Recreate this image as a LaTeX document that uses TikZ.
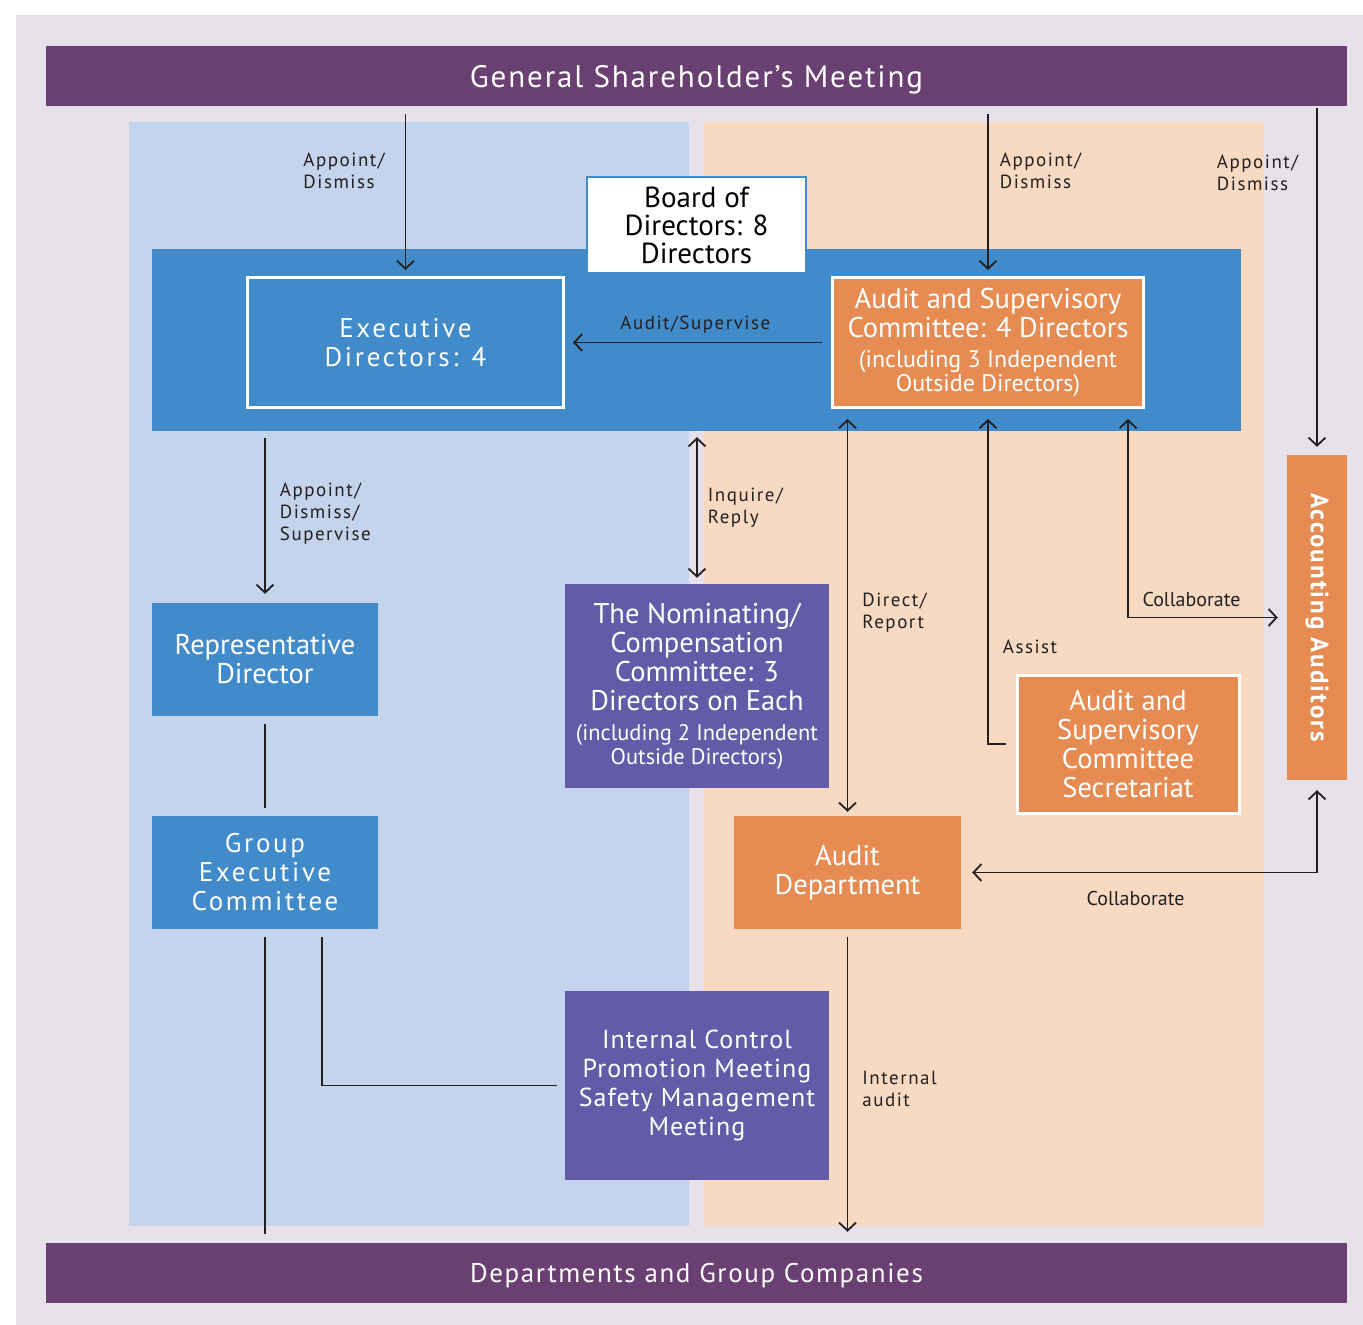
\documentclass[tikz,border=0pt]{standalone}
\usepackage{fontspec}
\setmainfont{PT Sans}
\usetikzlibrary{positioning,arrows.meta}

\definecolor{pagebg}{HTML}{E7E2EA}
\definecolor{meetpurple}{HTML}{6A3F72}
\definecolor{execside}{HTML}{C5D4ED}
\definecolor{auditside}{HTML}{F8DAC2}
\definecolor{boardblue}{HTML}{428BCA}
\definecolor{auditorange}{HTML}{E68C53}
\definecolor{commpurple}{HTML}{625BA8}
\definecolor{inkgray}{HTML}{231F20}

\newcommand{\spaced}[1]{\addfontfeature{LetterSpace=#1}}

\begin{document}
\begin{tikzpicture}[x=1pt, y=-1pt, >={Straight Barb[length=8pt,width=17pt]},
  meetbar/.style={fill=meetpurple, text=white, minimum width=1301pt, minimum height=60pt, inner sep=0pt, text depth=0pt},
  bluebox/.style={fill=boardblue, text=white, align=center, inner sep=0pt},
  orangebox/.style={fill=auditorange, text=white, align=center, inner sep=0pt},
  purplebox/.style={fill=commpurple, text=white, align=center, inner sep=0pt},
  framed/.style={draw=white, line width=3pt},
  rel/.style={inkgray, line width=1.8pt},
  lbl/.style={text=inkgray, align=left, inner sep=0pt, font=\fontsize{19}{22}\selectfont\spaced{8}},
  boxfont/.style={font=\fontsize{28.5}{29}\selectfont}]

  % page and the two halves
  \useasboundingbox (0,0) rectangle (1363,1325);
  \fill[pagebg] (16,15) rectangle (1363,1325);
  \fill[execside] (129,122) rectangle (689,1226);
  \fill[auditside] (704,122) rectangle (1264,1226);

  % meetings at top and bottom
  \node[meetbar, font=\fontsize{31}{33}\selectfont\spaced{6}] (gsm) at (696.5,76) {General Shareholder’s Meeting};
  \node[meetbar, font=\fontsize{27}{30}\selectfont\spaced{6}] (dept) at (696.5,1273) {Departments and Group Companies};

  % board of directors
  \node[fill=boardblue, minimum width=1089pt, minimum height=182pt, inner sep=0pt] (board) at (696.5,340) {};
  \node[fill=white, draw=boardblue, line width=2pt, minimum width=219pt, minimum height=96pt, align=center, inner sep=0pt,
    font=\fontsize{29}{28}\selectfont] (boardlbl) at (696.5,225) {Board of\\Directors: 8\\Directors};
  \node[bluebox, framed, minimum width=316pt, minimum height=130pt, font=\fontsize{27}{29}\selectfont\spaced{10}]
    (exec) at (405.5,342.5) {Executive\\Directors: 4};
  \node[orangebox, framed, minimum width=311pt, minimum height=130pt, font=\fontsize{28.5}{29}\selectfont] (asc) at (988,342.5)
    {Audit and Supervisory\\Committee: 4 Directors\\[1pt]
     {\fontsize{24}{24}\selectfont (including 3 Independent}\\[-5pt]
     {\fontsize{24}{24}\selectfont Outside Directors)}};

  % executive side
  \node[bluebox, boxfont, minimum width=226pt, minimum height=113pt] (rep) at (265,659.5) {Representative\\Director};
  \node[bluebox, minimum width=226pt, minimum height=113pt, font=\fontsize{27}{29}\selectfont\spaced{10}]
    (gec) at (265,872.5) {Group\\Executive\\Committee};
  \node[purplebox, boxfont, minimum width=264pt, minimum height=204pt] (nom) at (697,686)
    {The Nominating/\\Compensation\\Committee: 3\\Directors on Each\\[1pt]
     {\fontsize{22.5}{24}\selectfont (including 2 Independent}\\[-5pt]
     {\fontsize{22.5}{24}\selectfont Outside Directors)}};
  \node[purplebox, minimum width=264pt, minimum height=189pt, font=\fontsize{26}{29}\selectfont\spaced{4}]
    (icm) at (697,1085.5) {Internal Control\\Promotion Meeting\\Safety Management\\Meeting};

  % audit side
  \node[orangebox, boxfont, minimum width=227pt, minimum height=113pt] (adept) at (847.5,872.5) {Audit\\Department};
  \node[orangebox, framed, boxfont, minimum width=222pt, minimum height=138pt] (sec) at (1128,744)
    {Audit and\\Supervisory\\Committee\\Secretariat};
  \node[orangebox, minimum width=60pt, minimum height=325pt] (aud) at (1317,617.5) {};
  \node[text=white, rotate=-90, inner sep=0pt, font=\fontsize{25}{27}\selectfont\bfseries\spaced{8}] (audlbl) at (aud.center) {Accounting Auditors};

  % appointments from the shareholders
  \draw[rel, ->, shorten <=8pt, shorten >=6pt] (gsm.south -| exec.north) -- (exec.north)
    node[lbl, pos=0.38, anchor=east, xshift=-20pt] {Appoint/\\Dismiss};
  \draw[rel, ->, shorten <=8pt, shorten >=6pt] (gsm.south -| asc.north) -- (asc.north)
    node[lbl, pos=0.38, anchor=west, xshift=11pt] {Appoint/\\Dismiss};
  \draw[rel, ->, shorten <=2pt, shorten >=8pt] (gsm.south -| aud.north) -- (aud.north)
    node[lbl, pos=0.19, anchor=east, xshift=-18pt] {Appoint/\\Dismiss};

  % board level
  \draw[rel, ->, shorten <=9pt, shorten >=8pt] (asc.west) -- (exec.east)
    node[lbl, pos=0.51, anchor=south, yshift=8pt] {Audit/Supervise};
  \draw[rel, ->, shorten <=7pt, shorten >=9pt] (board.south -| rep.north) -- (rep.north)
    node[lbl, pos=0.48, anchor=west, xshift=14pt] {Appoint/\\Dismiss/\\Supervise};
  \draw[rel, shorten <=8pt, shorten >=8pt] (rep.south) -- (gec.north);
  \draw[rel, <->, shorten <=6pt, shorten >=6pt] (board.south -| nom.north) -- (nom.north)
    node[lbl, pos=0.5, anchor=west, xshift=10pt] {Inquire/\\Reply};
  \draw[rel, <->, shorten <=10pt, shorten >=4pt] (asc.south -| adept.north) -- (adept.north)
    node[lbl, pos=0.5, anchor=west, xshift=14pt] {Direct/\\Report};
  \draw[rel, ->, shorten <=10pt, shorten >=10pt] (sec.west) -| (asc.south)
    node[lbl, pos=0.645, anchor=west, xshift=14pt] {Assist};
  \draw[rel, <->, shorten <=10pt, shorten >=9pt] ([xshift=140pt]asc.south) |- (aud.west)
    node[lbl, pos=0.7, anchor=south, yshift=10pt, font=\fontsize{20}{22}\selectfont] {Collaborate};
  \draw[rel, <->, shorten <=11pt, shorten >=10pt] (adept.east) -| (aud.south)
    node[lbl, pos=0.245, anchor=north, yshift=-18pt, font=\fontsize{20}{22}\selectfont] {Collaborate};

  % down to the departments
  \draw[rel, shorten <=8pt, shorten >=8pt] ([xshift=57pt]gec.south) |- (icm.west);
  \draw[rel, shorten <=8pt, shorten >=9pt] (gec.south) -- (gec.south |- dept.north);
  \draw[rel, ->, shorten <=8pt, shorten >=11pt] (adept.south) -- (adept.south |- dept.north)
    node[lbl, pos=0.51, anchor=west, xshift=14pt] {Internal\\audit};
\end{tikzpicture}
\end{document}
